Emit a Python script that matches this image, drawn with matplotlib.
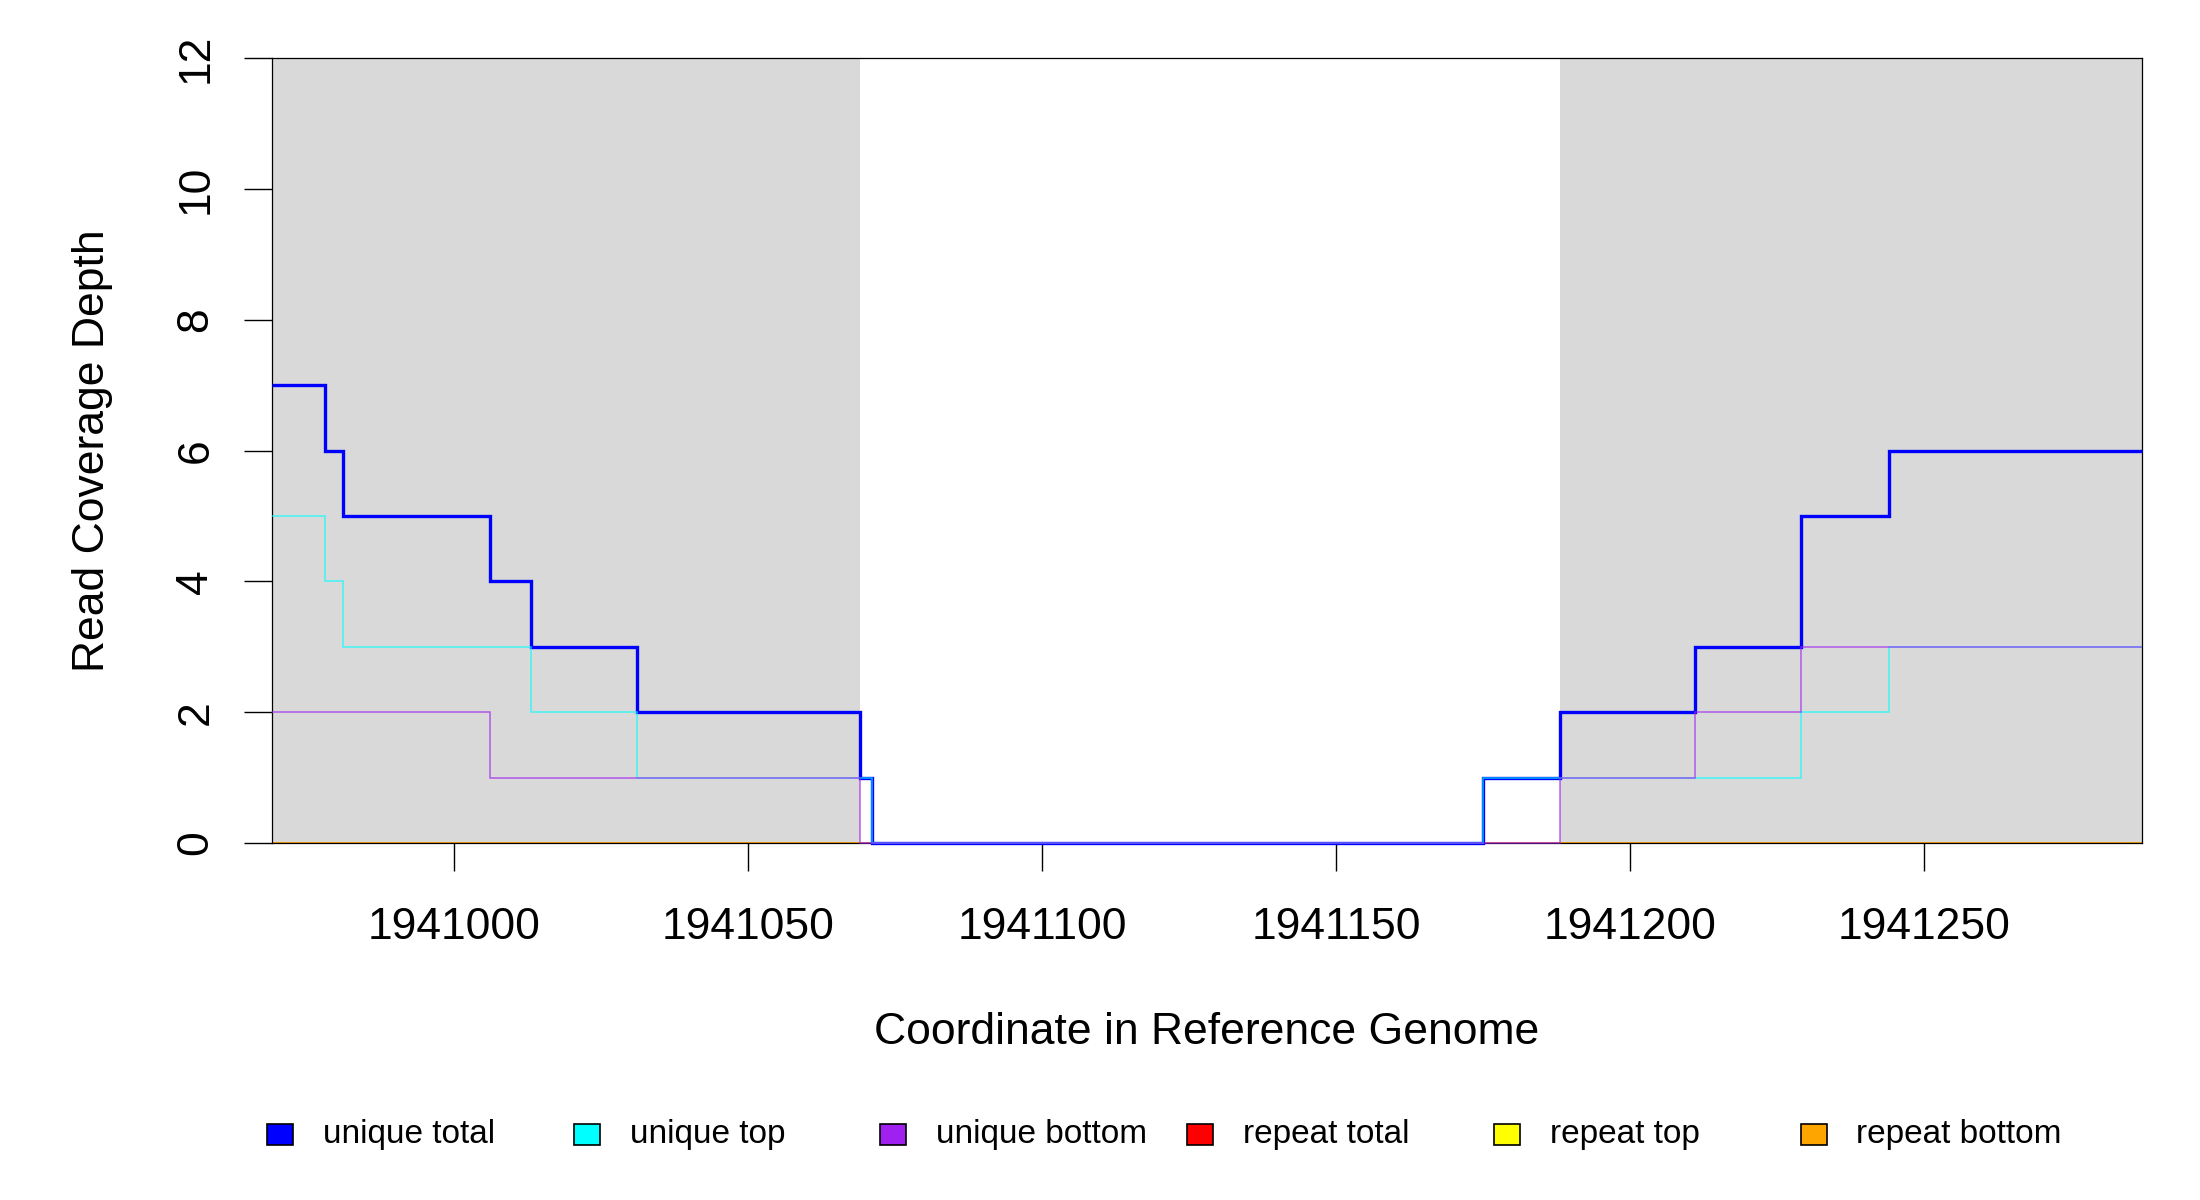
import matplotlib
matplotlib.use("Agg")
import matplotlib.pyplot as plt
from matplotlib.patches import Rectangle

plt.rcParams['font.family'] = ['Liberation Sans', 'DejaVu Sans']

# plotted window on the genome
x_min = 1940969
x_max = 1941287

# repeat regions (grey background)
repeat_starts = [1940969, 1941188]
repeat_ends = [1941069, 1941287]

# step edges and depth for each interval
total_edges = [1940969, 1940978, 1940981, 1941006, 1941013, 1941031, 1941069,
               1941071, 1941175, 1941188, 1941211, 1941229, 1941244, 1941287]
total_vals = [7, 6, 5, 4, 3, 2, 1, 0, 1, 2, 3, 5, 6]

top_edges = [1940969, 1940978, 1940981, 1941013, 1941031, 1941071,
             1941175, 1941229, 1941244, 1941287]
top_vals = [5, 4, 3, 2, 1, 0, 1, 2, 3]

bottom_edges = [1940969, 1941006, 1941069, 1941188, 1941211, 1941229, 1941287]
bottom_vals = [2, 1, 0, 1, 2, 3]

repeat_total_edges = [1940969, 1941287]
repeat_total_vals = [0]
repeat_top_vals = [0]
repeat_bottom_vals = [0]

legend_labels = ['unique total', 'unique top', 'unique bottom',
                 'repeat total', 'repeat top', 'repeat bottom']
legend_colors = ['#0000FF', '#00FFFF', '#A020F0', '#FF0000', '#FFFF00', '#FFA500']

W, H = 2200, 1200
fig = plt.figure(figsize=(22, 12), dpi=100)
ax = fig.add_axes([272 / W, 1 - 843 / H, 1870 / W, 785 / H])

for s, e in zip(repeat_starts, repeat_ends):
    ax.axvspan(s, e, color='#D9D9D9', lw=0, zorder=0)

# repeat coverage
ax.stairs(repeat_top_vals, repeat_total_edges, baseline=None, color='#FFFF00', lw=1.2, alpha=0.7, zorder=2, clip_on=False)
ax.stairs(repeat_total_vals, repeat_total_edges, baseline=None, color='#FF0000', lw=1.2, alpha=0.5, zorder=2, clip_on=False)
for s, e in zip(repeat_starts, repeat_ends):
    ax.stairs(repeat_bottom_vals, [s, e], baseline=None, color='#FFA500', lw=1.2, alpha=0.9, zorder=2, clip_on=False)

# unique coverage
ax.stairs(total_vals, total_edges, baseline=None, color='#0000FF', lw=2.4, zorder=3, clip_on=False)
ax.stairs(top_vals, top_edges, baseline=None, color='#00FFFF', lw=1.1, alpha=0.7, zorder=4, clip_on=False)
ax.stairs(bottom_vals, bottom_edges, baseline=None, color='#A020F0', lw=1.1, alpha=0.7, zorder=5, clip_on=False)

ax.set_xlim(x_min, x_max)
ax.set_ylim(0, 12)
ax.set_xticks([1941000, 1941050, 1941100, 1941150, 1941200, 1941250])
ax.set_xticklabels(['1941000', '1941050', '1941100', '1941150', '1941200', '1941250'])
ax.set_yticks([0, 2, 4, 6, 8, 10, 12])
ax.set_yticklabels(['0', '2', '4', '6', '8', '10', '12'], rotation=90, va='center')

ax.tick_params(axis='x', length=20, width=1.0, pad=26, labelsize=32)
ax.tick_params(axis='y', length=20, width=1.0, pad=20, labelsize=32)
for sp in ax.spines.values():
    sp.set_linewidth(0.9)
    sp.set_color('black')

ax.set_xlabel('Coordinate in Reference Genome', fontsize=32)
ax.xaxis.set_label_coords((1207 - 272) / 1870, (843 - 1033) / 785)
ax.xaxis.label.set_va('center')
ax.set_ylabel('Read Coverage Depth', fontsize=32)
ax.yaxis.set_label_coords((93 - 272) / 1870, 0.5)
ax.yaxis.label.set_va('center')
ax.yaxis.label.set_rotation_mode('default')

# legend row below the plot
for i, (lab, col) in enumerate(zip(legend_labels, legend_colors)):
    cx = 280 + i * 306.7
    cy = 1134
    fig.add_artist(Rectangle(((cx - 13) / W, 1 - (cy + 10.5) / H), 26 / W, 21 / H,
                             transform=fig.transFigure, facecolor=col,
                             edgecolor='black', lw=1.2))
    fig.text((cx + 43) / W, 1 - cy / H, lab, fontsize=24, ha='left', va='center')

fig.savefig('out.png', dpi=100)
